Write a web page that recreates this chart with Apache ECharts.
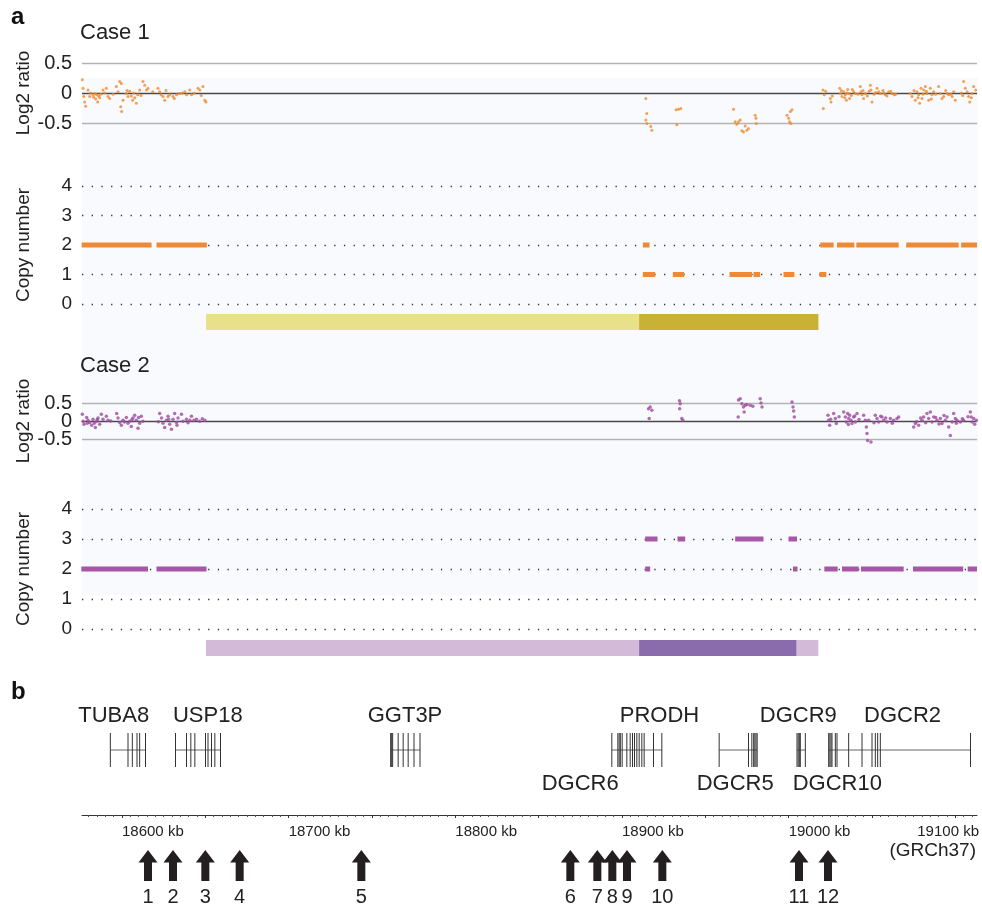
<!DOCTYPE html>
<html><head><meta charset="utf-8">
<script src="https://cdn.jsdelivr.net/npm/echarts@6/dist/echarts.min.js"></script>
<style>html,body{margin:0;padding:0;background:#fff}#c{width:982px;height:907px}</style>
</head><body><div id="c"></div><script>
const FONT = 'Liberation Sans, Arial, Helvetica, sans-serif';
const X_MIN = 18576, X_MAX = 19113;

// ---- tick values / labels ----
const log2Ticks = [-0.5, 0, 0.5];
const cnTicks = [0, 1, 2, 3, 4];
const majorTicks = [18600, 18650, 18700, 18750, 18800, 18850, 18900, 18950, 19000, 19050, 19100];
const kbLabels = [18600, 18700, 18800, 18900, 19000];
const kbLastLabel = [19100];

// ---- Case 1 log2 ratio (kb, log2) ----
const case1Log2 = [
[18576.2,0.22],[18576.6,0.08],[18577.0,-0.06],[18577.6,-0.15],[18578.2,-0.22],[18579.6,0.05],[18580.6,-0.06],[18581.2,0.00],[18582.6,-0.03],[18583.0,-0.07],[18583.6,-0.01],[18584.2,-0.10],[18584.8,-0.03],[18585.4,-0.15],[18586.0,-0.05],[18586.6,-0.08],[18587.2,-0.02],[18588.6,0.05],[18589.6,0.00],[18590.6,0.08],[18591.6,-0.06],[18592.6,-0.09],[18594.6,-0.02],[18596.6,0.11],[18597.6,0.02],[18598.6,0.19],[18599.6,0.16],[18599.2,-0.23],[18599.8,-0.31],[18600.6,-0.12],[18602.6,-0.01],[18603.0,0.04],[18603.6,-0.06],[18604.6,0.03],[18605.6,-0.05],[18606.4,-0.12],[18607.0,0.00],[18607.6,-0.08],[18608.6,-0.17],[18609.4,-0.03],[18610.6,0.05],[18611.4,-0.04],[18612.6,0.19],[18613.6,0.13],[18614.7,0.05],[18615.6,0.08],[18618.4,0.02],[18621.6,0.08],[18622.6,0.02],[18623.4,-0.03],[18624.6,-0.06],[18625.6,-0.12],[18626.4,0.04],[18627.6,-0.06],[18628.6,-0.03],[18630.6,-0.06],[18631.4,-0.09],[18632.7,-0.03],[18634.6,-0.01],[18636.2,0.00],[18637.7,0.02],[18638.7,-0.03],[18640.7,0.05],[18641.7,-0.03],[18643.4,0.00],[18645.6,0.08],[18646.7,0.05],[18647.6,-0.04],[18648.6,0.11],[18649.7,-0.12],[18650.3,-0.15],
[18914.3,-0.09],[18914.9,-0.34],[18914.3,-0.45],[18914.9,-0.51],[18917.3,-0.56],[18917.9,-0.62],[18932.5,-0.28],[18933.9,-0.27],[18935.3,-0.26],[18932.9,-0.53],[18966.9,-0.27],[18967.9,-0.48],[18968.9,-0.52],[18969.9,-0.48],[18970.9,-0.45],[18971.9,-0.63],[18972.9,-0.65],[18973.9,-0.55],[18974.9,-0.62],[18975.9,-0.59],[18979.9,-0.37],[18980.4,-0.42],[18980.6,-0.51],[18999.0,-0.37],[19000.0,-0.42],[19001.0,-0.31],[19001.4,-0.51],[19000.5,-0.48],[19002.0,-0.28],
[19020.6,0.05],[19021.4,-0.03],[19020.8,-0.26],[19022.2,0.03],[19025.0,-0.09],[19025.4,-0.15],[19026.2,-0.05],[19030.6,0.08],[19031.0,-0.01],[19031.6,0.04],[19032.0,-0.06],[19033.0,0.02],[19033.6,-0.08],[19034.0,-0.03],[19034.6,-0.12],[19035.0,0.00],[19035.4,0.06],[19036.0,-0.01],[19036.6,-0.09],[19037.6,-0.04],[19038.2,0.06],[19039.0,0.02],[19040.0,-0.01],[19041.6,-0.02],[19043.0,0.11],[19043.4,0.02],[19044.0,-0.03],[19044.6,0.04],[19045.0,-0.09],[19046.0,-0.01],[19047.2,-0.05],[19048.2,0.03],[19049.0,0.13],[19049.4,0.05],[19050.0,-0.15],[19051.2,-0.02],[19052.2,0.01],[19053.0,0.08],[19054.0,0.02],[19055.0,-0.01],[19056.6,0.04],[19057.2,0.00],[19058.0,-0.03],[19059.0,-0.05],[19060.0,0.02],[19061.2,0.03],[19062.0,-0.01],[19063.4,-0.03],[19064.2,-0.02],
[19073.0,-0.01],[19074.0,-0.06],[19075.2,0.04],[19076.0,-0.12],[19077.0,0.02],[19077.6,-0.08],[19078.0,-0.03],[19078.6,-0.17],[19079.4,0.08],[19080.0,-0.09],[19080.6,-0.02],[19081.0,0.05],[19082.0,0.11],[19082.6,0.03],[19083.0,-0.01],[19084.0,-0.12],[19085.0,0.08],[19085.6,-0.10],[19086.0,-0.03],[19087.0,0.02],[19088.2,-0.02],[19090.0,0.11],[19091.0,-0.01],[19092.0,-0.09],[19093.0,-0.06],[19094.2,0.04],[19095.0,-0.01],[19096.0,-0.03],[19097.2,-0.02],[19098.1,-0.06],[19099.0,0.02],[19100.0,-0.12],[19103.6,0.00],[19104.4,-0.04],[19105.0,0.19],[19106.0,0.08],[19107.1,0.02],[19108.0,-0.06],[19108.6,-0.15],[19109.6,-0.08],[19110.1,-0.01],[19111.0,0.11],[19112.2,0.05]
];

// ---- Case 1 copy number segments (start kb, end kb, copy number) ----
const case1CN = [
[18575.8,18617.7,2],[18620.7,18650.9,2],[18912.5,18916.5,2],[18912.5,18919.9,1],[18930.5,18937.3,1],
[18964.5,18978.0,1],[18978.9,18982.9,1],[18996.9,19003.4,1],[19018.5,19022.6,1],[19019.0,19027.0,2],
[19029.0,19039.4,2],[19040.6,19066.0,2],[19070.6,19102.0,2],[19103.5,19113.0,2]
];
const case1Span = [[18650.4, 19017.8]];
const case1Core = [[18910.3, 19017.8]];

// ---- Case 2 log2 ratio ----
const case2Log2 = [
[18576.2,0.19],[18576.6,-0.01],[18577.2,-0.09],[18578.8,0.10],[18579.2,-0.06],[18579.6,0.02],[18580.6,-0.04],[18581.8,-0.12],[18582.6,0.05],[18583.4,-0.06],[18584.0,-0.18],[18584.8,-0.01],[18585.2,0.04],[18585.6,0.08],[18586.6,-0.09],[18587.6,0.19],[18588.6,0.05],[18590.6,0.13],[18591.6,0.02],[18593.2,0.00],[18596.8,0.21],[18597.6,0.08],[18598.6,-0.04],[18599.6,-0.12],[18600.6,0.02],[18601.4,-0.03],[18602.6,0.10],[18603.6,-0.06],[18604.6,-0.01],[18605.6,-0.15],[18606.0,0.04],[18606.6,0.08],[18607.6,0.16],[18608.6,0.02],[18609.6,-0.20],[18610.0,0.10],[18610.6,-0.06],[18611.6,0.13],[18612.6,-0.01],
[18621.8,-0.02],[18622.6,0.21],[18623.7,0.08],[18624.6,-0.06],[18625.6,-0.18],[18626.7,0.02],[18627.6,0.13],[18628.0,0.05],[18628.6,-0.09],[18629.7,-0.23],[18630.6,0.05],[18631.6,0.21],[18632.7,-0.04],[18633.0,-0.12],[18633.6,0.08],[18635.7,0.19],[18636.6,-0.01],[18638.7,0.05],[18639.6,-0.05],[18640.7,0.02],[18641.7,0.13],[18643.2,0.02],[18644.7,0.05],[18646.7,-0.01],[18648.2,0.06],[18649.7,0.02],
[18915.9,0.34],[18916.9,0.39],[18917.9,0.30],[18916.3,0.07],[18934.5,0.56],[18934.9,0.48],[18934.6,0.34],[18935.9,0.07],[18936.5,0.02],[18969.9,0.58],[18970.9,0.62],[18971.9,0.48],[18972.9,0.39],[18973.3,0.25],[18973.9,0.44],[18974.9,0.46],[18976.9,0.44],[18978.5,0.41],[18969.7,0.11],[18982.9,0.62],[18983.4,0.50],[18984.0,0.39],[19002.0,0.53],[19002.6,0.39],[19003.0,0.28],[19003.4,0.11],
[19023.6,0.16],[19024.0,0.02],[19024.6,-0.12],[19025.2,0.05],[19027.0,0.21],[19028.0,0.07],[19028.6,-0.07],[19030.2,0.12],[19033.0,0.25],[19034.0,0.11],[19034.6,-0.03],[19035.4,0.21],[19035.8,-0.10],[19036.0,0.07],[19036.6,0.16],[19037.4,0.02],[19038.0,-0.07],[19039.0,0.11],[19039.6,0.14],[19040.0,-0.03],[19041.0,0.21],[19042.2,0.04],[19045.0,0.16],[19046.0,0.02],[19046.6,-0.17],[19047.0,-0.35],[19047.4,-0.54],[19049.4,-0.58],[19048.0,0.02],[19051.2,-0.05],[19052.0,0.16],[19053.0,0.07],[19054.0,-0.03],[19055.2,0.13],[19056.0,0.11],[19057.0,0.02],[19058.2,0.08],[19059.0,-0.03],[19061.0,0.07],[19062.2,-0.06],[19063.0,0.02],[19065.0,0.07],[19066.0,0.11],
[19075.0,-0.17],[19076.0,-0.07],[19076.8,-0.02],[19078.0,-0.12],[19079.2,0.08],[19080.0,0.02],[19081.0,0.11],[19082.2,-0.05],[19083.0,0.21],[19084.0,0.07],[19085.0,0.25],[19086.0,-0.03],[19087.0,0.11],[19088.2,0.10],[19089.0,0.02],[19090.2,-0.08],[19091.0,0.07],[19092.0,-0.07],[19093.2,0.15],[19094.0,0.02],[19095.0,0.11],[19096.0,-0.17],[19097.0,-0.40],[19098.1,-0.03],[19099.0,0.21],[19100.0,0.07],[19100.6,-0.06],[19101.0,0.02],[19103.0,-0.03],[19104.2,0.06],[19105.0,0.02],[19107.6,0.12],[19109.0,0.25],[19109.5,0.11],[19110.1,-0.03],[19111.0,0.07],[19111.6,-0.09],[19112.6,0.02]
];

// ---- Case 2 copy number segments ----
const case2CN = [
[18575.6,18615.6,2],[18620.7,18650.7,2],[18913.9,18921.3,3],[18933.3,18937.9,3],[18967.9,18984.9,3],
[18999.9,19005.0,3],[18913.9,18916.9,2],[19002.6,19005.3,2],[19021.4,19029.4,2],[19032.0,19042.0,2],
[19043.4,19069.0,2],[19074.6,19104.7,2],[19107.4,19113.0,2]
];
const case2Span = [[18650.4, 19017.8]];
const case2Core = [[18910.3, 19004.6]];

// ---- Gene models (exon positions, kb) ----
const geneModels = [
[18593.0,18603.6,18606.2,18609.0,18610.6,18614.1],
[18632.1,18638.7,18641.3,18643.7,18650.1,18651.6,18653.7,18655.7,18659.1],
[18761.2,18761.8,18762.4,18765.7,18768.7,18771.7,18775.2,18778.8],
[18893.9,18897.5,18898.3,18899.0,18900.1,18902.9,18904.9,18906.3,18907.5,18908.9,18910.3,18911.9,18913.3,18918.9,18923.9],
[18958.3,18975.9,18977.9,18979.0,18979.7,18980.4,18981.1],
[19005.0,19005.7,19006.4,19007.0,19010.0],
[19024.0,19024.7,19025.4,19026.0,19028.0,19029.0,19036.0,19044.0,19050.0,19052.0,19053.4,19055.0,19109.1]
];
const geneNames = ['TUBA8','USP18','GGT3P','PRODH','DGCR9','DGCR2','DGCR6','DGCR5','DGCR10'];
const geneLabelKb = [18595.0,18651.5,18769.8,18922.5,19005.8,19068.3,18874.9,18967.9,19029.2];
const geneLabelRow = [1,1,1,1,1,1,0,0,0];

// ---- Arrows ----
const arrowKb = [18615.6,18630.6,18650.0,18670.6,18743.6,18869.0,18885.2,18894.2,18903.0,18924.2,19006.2,19023.6];
const arrowLabels = ['1','2','3','4','5','6','7','8','9','10','11','12'];

// ================= layout =================
const L = 82, W = 895;
// 0 c1 log2, 1 c1 CN, 2 c1 bar, 3 c2 log2, 4 c2 CN, 5 c2 bar, 6 genes, 7 axis, 8 arrows, 9 minor ticks, 10 last label, 11 c2 log2 zero label
const boxes = [[63,60],[186,118],[314,16],[403,36],[509,120],[640,16],[733,34],[785,30],[850,31],[785,30],[785,30],[403,36]];
const grid = boxes.map(b => ({left:L, width:W, top:b[0], height:b[1]}));

function hiddenX(i){ return {type:'value', gridIndex:i, min:X_MIN, max:X_MAX, show:false}; }
const xAxis = boxes.map((b,i)=>hiddenX(i));
xAxis[7] = {type:'value', gridIndex:7, min:X_MIN, max:X_MAX, position:'bottom',
  axisLine:{show:true, lineStyle:{color:'#333', width:1}},
  axisTick:{show:true, customValues:majorTicks, length:3, lineStyle:{color:'#333'}},
  axisLabel:{show:true, customValues:kbLabels, formatter:v=>v+' kb', align:'left', margin:9, fontSize:15, color:'#222', fontFamily:FONT},
  splitLine:{show:false}};
const minorTicks = [];
for (let k = 18580; k <= 19110; k += 5) if (k % 50 !== 0) minorTicks.push(k);
xAxis[9] = {type:'value', gridIndex:9, min:X_MIN, max:X_MAX, position:'bottom',
  axisLine:{show:false}, axisTick:{show:true, customValues:minorTicks, length:2, lineStyle:{color:'#555'}},
  axisLabel:{show:false}, splitLine:{show:false}};
xAxis[10] = {type:'value', gridIndex:10, min:X_MIN, max:X_MAX, position:'bottom',
  axisLine:{show:false}, axisTick:{show:false},
  axisLabel:{show:true, customValues:kbLastLabel, formatter:v=>v+' kb', align:'center', padding:[0,12,0,0], margin:9, fontSize:15, color:'#222', fontFamily:FONT},
  splitLine:{show:false}};

function log2Y(i, labels, withLines){ return {type:'value', gridIndex:i, min:-0.5, max:0.5, interval:0.5,
  axisLine:{show:false}, axisTick:{show:false},
  axisLabel:{customValues:labels, interval:0, showMinLabel:true, showMaxLabel:true,
    formatter:v=>String(v), fontSize:20, color:'#222', margin:10, fontFamily:FONT},
  splitLine:{show:withLines, lineStyle:{color:['#b3b3b3','#4a4a4a','#b3b3b3'], width:1.3}},
  name: withLines ? 'Log2 ratio' : '', nameLocation:'middle', nameGap:49, nameMoveOverlap:false,
  nameTextStyle:{fontSize:19, color:'#222', fontFamily:FONT}}; }
function cnY(i){ return {type:'value', gridIndex:i, min:0, max:4, interval:1,
  axisLine:{show:false}, axisTick:{show:false},
  axisLabel:{customValues:cnTicks, interval:0, showMinLabel:true, showMaxLabel:true, fontSize:19, color:'#222', margin:10, fontFamily:FONT},
  splitLine:{show:true, lineStyle:{color:'#333', width:1.3, type:[1.3,8.4]}},
  name:'Copy number', nameLocation:'middle', nameGap:49, nameMoveOverlap:false,
  nameTextStyle:{fontSize:19, color:'#222', fontFamily:FONT}}; }
function hiddenY(i){ return {type:'value', gridIndex:i, min:0, max:1, show:false}; }
const yAxis = boxes.map((b,i)=>hiddenY(i));
yAxis[0] = log2Y(0, log2Ticks, true);
yAxis[1] = cnY(1);
yAxis[3] = log2Y(3, log2Ticks.filter(v => v !== 0), true);
yAxis[11] = log2Y(11, log2Ticks.filter(v => v === 0), false);
yAxis[4] = cnY(4);

function segRender(color){ return function(params, api){
  const s = api.coord([api.value(0), api.value(2)]);
  const e = api.coord([api.value(1), api.value(2)]);
  return {type:'rect', shape:{x:s[0], y:s[1]-2.5, width:Math.max(e[0]-s[0],3), height:5}, style:{fill:color}};
};}
function barRender(color){ return function(params, api){
  const s = api.coord([api.value(0), 1]);
  const e = api.coord([api.value(1), 0]);
  return {type:'rect', shape:{x:s[0], y:s[1], width:e[0]-s[0], height:e[1]-s[1]}, style:{fill:color}};
};}

const series = [
  {type:'scatter', xAxisIndex:0, yAxisIndex:0, data:case1Log2, symbolSize:3, clip:false, itemStyle:{color:'#ef8a2c'}, silent:true},
  {type:'custom', xAxisIndex:1, yAxisIndex:1, data:case1CN, encode:{x:[0,1], y:2}, renderItem:segRender('#ee8a36'), clip:false},
  {type:'custom', xAxisIndex:2, yAxisIndex:2, data:case1Span, encode:{x:[0,1]}, renderItem:barRender('#e8e08b')},
  {type:'custom', xAxisIndex:2, yAxisIndex:2, data:case1Core, encode:{x:[0,1]}, renderItem:barRender('#c8b134')},
  {type:'scatter', xAxisIndex:3, yAxisIndex:3, data:case2Log2, symbolSize:3.5, clip:false, itemStyle:{color:'#9d4b9f'}, silent:true},
  {type:'custom', xAxisIndex:4, yAxisIndex:4, data:case2CN, encode:{x:[0,1], y:2}, renderItem:segRender('#a657a8'), clip:false},
  {type:'custom', xAxisIndex:5, yAxisIndex:5, data:case2Span, encode:{x:[0,1]}, renderItem:barRender('#d3bad8')},
  {type:'custom', xAxisIndex:5, yAxisIndex:5, data:case2Core, encode:{x:[0,1]}, renderItem:barRender('#8a6cad')},
  {type:'custom', xAxisIndex:6, yAxisIndex:6, data:geneModels.map(ex=>[ex[0], ex[ex.length-1], 0.5]), encode:{x:[0,1], y:2}, clip:false,
    renderItem:function(params, api){
      const ex = geneModels[params.dataIndex];
      const top = api.coord([ex[0], 1])[1], bot = api.coord([ex[0], 0])[1], mid = (top+bot)/2;
      const children = [{type:'line', shape:{x1:api.coord([ex[0],0])[0], y1:mid, x2:api.coord([ex[ex.length-1],0])[0], y2:mid}, style:{stroke:'#666', lineWidth:1}}];
      ex.forEach(k=>{ const x = api.coord([k,0])[0];
        children.push({type:'line', shape:{x1:x, y1:top, x2:x, y2:bot}, style:{stroke:'#333', lineWidth:1}}); });
      return {type:'group', children};
    }},
  {type:'custom', xAxisIndex:6, yAxisIndex:6, data:geneLabelKb.map((k,i)=>[k, geneLabelRow[i]===1?1.5:-0.5]), encode:{x:0, y:1}, clip:false,
    renderItem:function(params, api){
      const p = api.coord([api.value(0), api.value(1)]);
      return {type:'text', x:p[0], y:p[1], style:{text:geneNames[params.dataIndex], font:'22px '+FONT, fill:'#222', align:'center', verticalAlign:'middle'}};
    }},
  {type:'custom', xAxisIndex:8, yAxisIndex:8, data:arrowKb.map(k=>[k,0]), encode:{x:0, y:1}, clip:false,
    renderItem:function(params, api){
      const b = api.coord([api.value(0), 0]);
      const t = api.coord([api.value(0), 1]);
      const x = b[0], yb = b[1], yt = t[1], hy = yt + 12.5;
      return {type:'group', children:[
        {type:'polygon', shape:{points:[[x,yt],[x+9.5,hy],[x+4,hy],[x+4,yb],[x-4,yb],[x-4,hy],[x-9.5,hy]]}, style:{fill:'#231f20'}},
        {type:'text', x:x, y:yb+16.5, style:{text:arrowLabels[params.dataIndex], font:'20px '+FONT, fill:'#222', align:'center', verticalAlign:'middle'}}
      ]};
    }}
];

const graphic = [
  {type:'rect', left:82, top:78, z:-10, shape:{width:896, height:517}, style:{fill:'#f9fafd'}},
  {type:'text', left:11, top:5, style:{text:'a', font:'bold 24px '+FONT, fill:'#111'}},
  {type:'text', left:11, top:680, style:{text:'b', font:'bold 24px '+FONT, fill:'#111'}},
  {type:'text', left:80, top:22, style:{text:'Case 1', font:'22px '+FONT, fill:'#222'}},
  {type:'text', left:80, top:355, style:{text:'Case 2', font:'22px '+FONT, fill:'#222'}},
  {type:'text', right:6, top:841, style:{text:'(GRCh37)', font:'19px '+FONT, fill:'#222'}}
];

const chart = echarts.init(document.getElementById('c'), null, {renderer:'canvas'});
chart.setOption({animation:false, backgroundColor:'#ffffff', textStyle:{fontFamily:FONT}, grid, xAxis, yAxis, series, graphic});
</script></body></html>
